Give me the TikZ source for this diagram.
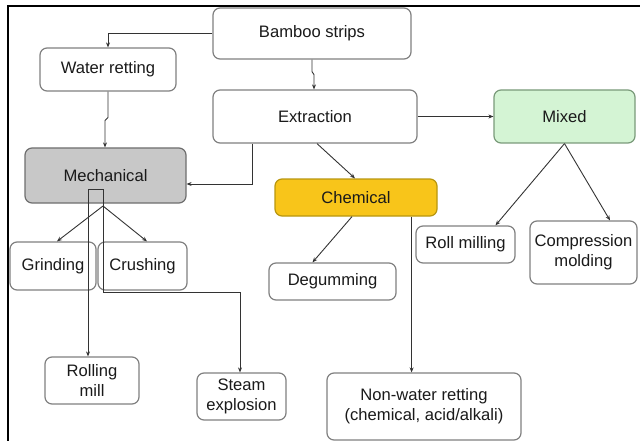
\documentclass[tikz,border=0pt]{standalone}
\usepackage{fontspec}
\setmainfont{Liberation Sans}
\usetikzlibrary{arrows.meta}
\definecolor{boxline}{HTML}{808080}
\definecolor{mechfill}{HTML}{C8C8C8}
\definecolor{mechline}{HTML}{6E6E6E}
\definecolor{chemfill}{HTML}{F8C51A}
\definecolor{chemline}{HTML}{B8960F}
\definecolor{mixfill}{HTML}{D4F4D4}
\definecolor{mixline}{HTML}{7A9A7A}
\definecolor{txt}{HTML}{1A1A1A}
\definecolor{conn}{HTML}{333333}
\tikzset{
  box/.style={draw=boxline, line width=1.2pt, rounded corners=7pt, fill=white,
    inner sep=0pt, align=center, text=txt,
    font=\fontsize{16.6}{20}\selectfont},
  arr/.style={draw=conn, line width=0.9pt, -{Stealth[length=5pt,width=4pt]}},
  ln/.style={draw=conn, line width=0.9pt}
}
\begin{document}
\begin{tikzpicture}[x=1pt,y=-1pt]
\useasboundingbox (0,0) rectangle (640,441);
\draw[line width=1.6pt] (8,441) -- (8,6) -- (640,6);

\node[box, minimum width=198pt, minimum height=51pt] (bamboo) at (312,33.5) {Bamboo strips};
\node[box, minimum width=136pt, minimum height=43pt] (water) at (108,69.5) {Water retting};
\node[box, minimum width=204pt, minimum height=53pt] (extraction) at (315,116.5) {Extraction};
\node[box, minimum width=141pt, minimum height=53pt, fill=mixfill, draw=mixline] (mixed) at (564.5,116.5) {Mixed};
\node[box, minimum width=161pt, minimum height=55pt, fill=mechfill, draw=mechline] (mechanical) at (105.5,175.5) {Mechanical};
\node[box, minimum width=162pt, minimum height=37pt, fill=chemfill, draw=chemline] (chemical) at (356,197.5) {Chemical};
\node[box, minimum width=86pt, minimum height=48pt] (grinding) at (53,266) {Grinding};
\node[box, minimum width=89pt, minimum height=48pt] (crushing) at (142.5,266) {Crushing};
\node[box, minimum width=127pt, minimum height=37pt] (degumming) at (332.5,281.5) {Degumming};
\node[box, minimum width=99pt, minimum height=37pt] (rollmilling) at (465.5,244.5) {Roll milling};
\node[box, minimum width=107pt, minimum height=63pt] (compression) at (583.5,252.5) {Compression\\molding};
\node[box, minimum width=94pt, minimum height=47pt] (rollingmill) at (92,380.5) {Rolling\\mill};
\node[box, minimum width=89pt, minimum height=47pt] (steam) at (241.5,396.5) {Steam\\explosion};
\node[box, minimum width=194pt, minimum height=67pt] (nonwater) at (424,406.5) {Non-water retting\\(chemical, acid/alkali)};

\coordinate (mL) at (88,189);
\coordinate (mR) at (103,189);
\coordinate (mfork) at (103,206);

% connectors
\draw[arr] (bamboo.west) -| (water.north);
\draw[arr] (bamboo.south) -- ++(0,12) -- ++(2,3) -- ([xshift=2pt]bamboo.south |- extraction.north);
\draw[arr] (water.south) -- ++(0,26) -- ++(-3,3) -- ([xshift=-3pt]water.south |- mechanical.north);
\draw[arr] ([xshift=40pt]extraction.south west) |- ([yshift=-8.5pt]mechanical.east);
\draw[arr] ([xshift=2pt]extraction.south) -- ([xshift=-1pt]chemical.north);
\draw[arr] (extraction.east) -- (mixed.west);
\draw[arr] (mixed.south) -- ([xshift=30pt]rollmilling.north);
\draw[arr] (mixed.south) -- ([xshift=26.5pt]compression.north);
\draw[arr] ([xshift=-4pt]chemical.south) -- ([xshift=-20pt]degumming.north);
\draw[arr] ([xshift=-26pt]chemical.south east) -- ([xshift=-26pt]chemical.south east |- nonwater.north);

\draw[ln] (mL) -- (mR);
\draw[arr] (mL) -- (mL |- rollingmill.north);
\draw[arr] (mR) -- ++(0,103) -| ([xshift=-1.5pt]steam.north);
\draw[arr] (mfork) -- ([xshift=4pt]grinding.north);
\draw[arr] (mfork) -- ([xshift=4.5pt]crushing.north);
\end{tikzpicture}
\end{document}
